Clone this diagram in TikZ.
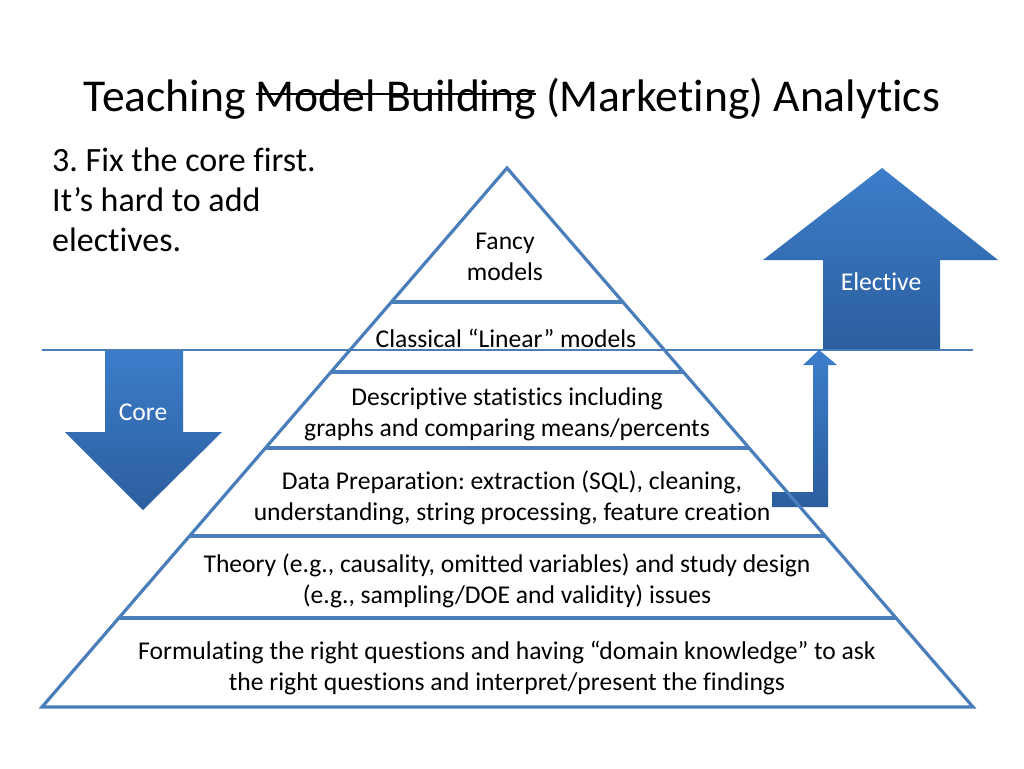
\documentclass[tikz,border=0pt]{standalone}
\usepackage{fontspec}
\setmainfont[Ligatures={NoCommon,NoRare}]{Carlito}
\usetikzlibrary{calc}
\definecolor{edgeblue}{RGB}{74,126,187}
\definecolor{arrtop}{RGB}{60,125,202}
\definecolor{arrbot}{RGB}{44,94,158}
\newcommand\mystrike[1]{\leavevmode\setbox0\hbox{#1}\rlap{\raisebox{0.36em}{\rule{\wd0}{2pt}}}\box0\relax}
\begin{document}
\frenchspacing
\begin{tikzpicture}[x=1pt,y=-1pt,
  pyr/.style={draw=edgeblue,line width=3.2pt,line join=miter},
  layer/.style={draw=edgeblue,line width=3.2pt},
  lbl/.style={align=center,font=\fontsize{25.6}{31}\selectfont,inner sep=0pt},
  bigarrow/.style={top color=arrtop,bottom color=arrbot,draw=none}]
\useasboundingbox[fill=white] (0,0) rectangle (1024,768);

% title and side text
\node[anchor=base,font=\fontsize{45.6}{55}\selectfont,inner sep=0pt] (title) at (512,111)
  {Teaching \mystrike{Model Building} (Marketing) Analytics};
\node[anchor=north west,align=left,font=\fontsize{34}{40}\selectfont,inner sep=0pt] (note) at (52,148)
  {3. Fix the core first.\\It’s hard to add\\electives.};

% arrows
\path[bigarrow] (105,350) -- (183,350) -- (183,432) -- (222,432) -- (143,510) -- (65,432) -- (105,432) -- cycle;
\path[bigarrow] (823,350) -- (823,260) -- (763,260) -- (882,168) -- (998,260) -- (940,260) -- (940,350) -- cycle;
\path[bigarrow] (772,492) -- (813,492) -- (813,365) -- (803,365) -- (819,350) -- (837,365) -- (828,365) -- (828,507) -- (772,507) -- cycle;
\node[text=white,font=\fontsize{25.6}{31}\selectfont] (core) at (143,412) {Core};
\node[text=white,font=\fontsize{25.6}{31}\selectfont] (elective) at (881,282) {Elective};

% pyramid
\coordinate (A) at (507,168);
\coordinate (BL) at (42,707);
\coordinate (BR) at (973,707);
\draw[pyr] (A) -- (BL) -- (BR) -- cycle;
\foreach \t [count=\i] in {0.2486,0.3785,0.5195,0.6827,0.8349}{
  \coordinate (l\i) at ($(A)!\t!(BL)$);
  \coordinate (r\i) at ($(A)!\t!(BR)$);
  \draw[layer] (l\i) -- (r\i);
}

% core boundary line
\coordinate (hl) at (42,350);
\coordinate (hr) at (973,350);
\draw[draw=edgeblue,line width=2.6pt] (hl) -- (hr);

% layer labels
\node[lbl] (fancy) at (505,257) {Fancy\\models};
\node[lbl] (classical) at (506,338) {Classical “Linear” models};
\node[lbl] (descr) at (507,414) {Descriptive statistics including\\graphs and comparing means/percents};
\node[lbl] (prep) at (512,498) {Data Preparation: extraction (SQL), cleaning,\\understanding, string processing, feature creation};
\node[lbl] (theory) at (507,581) {Theory (e.g., causality, omitted variables) and study design\\(e.g., sampling/DOE and validity) issues};
\node[lbl] (formul) at (507,668) {Formulating the right questions and having “domain knowledge” to ask\\the right questions and interpret/present the findings};
\end{tikzpicture}
\end{document}
